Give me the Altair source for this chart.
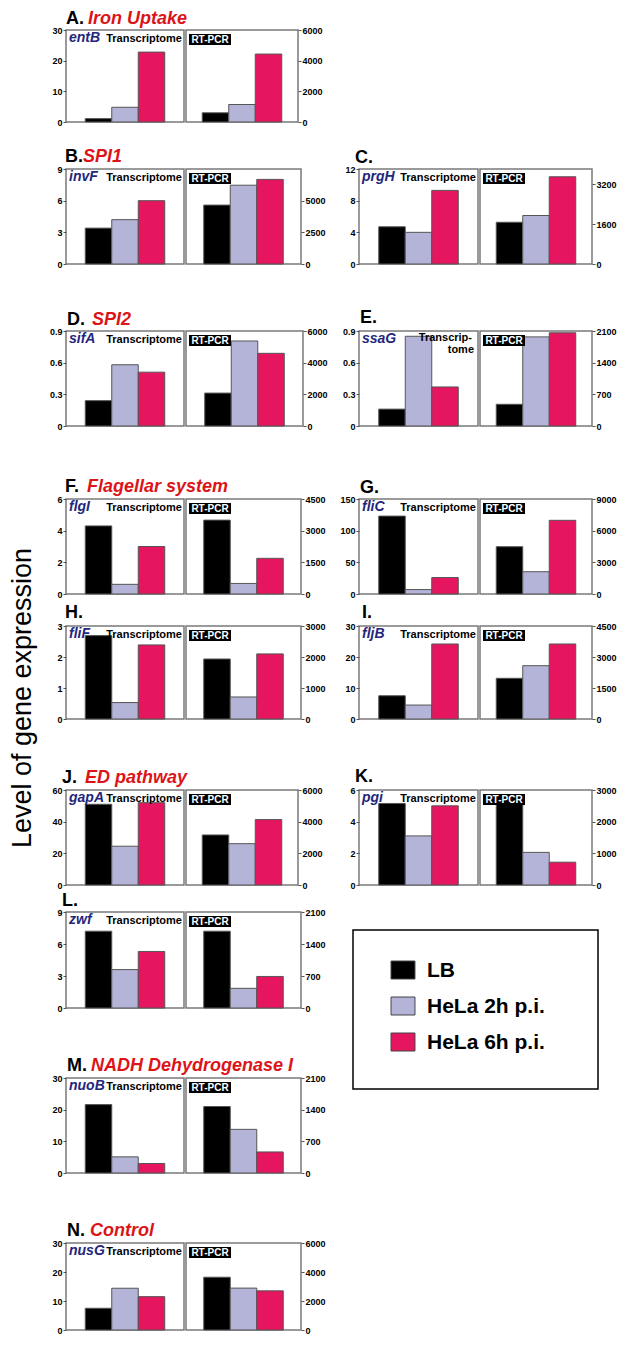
import altair as alt
import pandas as pd

FONT = "Liberation Sans"

# ---------------- data ----------------
groups = ["LB", "HeLa 2h p.i.", "HeLa 6h p.i."]
bar_colors = ["#000000", "#b4b4d8", "#e5165f"]

letters = ["A.", "B.", "C.", "D.", "E.", "F.", "G.", "H.", "I.", "J.", "K.", "L.", "M.", "N."]
topics = ["Iron Uptake", "SPI1", "", "SPI2", "", "Flagellar system", "", "", "",
          "ED pathway", "", "", "NADH Dehydrogenase I", "Control"]
genes = ["entB", "invF", "prgH", "sifA", "ssaG", "flgI", "fliC", "fliF", "fljB",
         "gapA", "pgi", "zwf", "nuoB", "nusG"]

transcriptome = [
    [1.1, 4.8, 22.8],
    [3.4, 4.2, 6.0],
    [4.7, 4.0, 9.3],
    [0.24, 0.58, 0.51],
    [0.16, 0.85, 0.37],
    [4.3, 0.61, 3.0],
    [123, 7, 26],
    [2.69, 0.53, 2.39],
    [7.5, 4.5, 24.2],
    [51, 24.5, 52],
    [5.15, 3.1, 5.0],
    [7.2, 3.6, 5.3],
    [21.6, 5.1, 3.0],
    [7.5, 14.4, 11.5],
]
rtpcr = [
    [600, 1140, 4430],
    [4650, 6220, 6680],
    [1670, 1940, 3490],
    [2080, 5370, 4590],
    [480, 1970, 2060],
    [3500, 500, 1690],
    [4480, 2110, 6980],
    [1935, 710, 2100],
    [1970, 2580, 3630],
    [3160, 2610, 4130],
    [2570, 1030, 720],
    [1680, 430, 690],
    [1470, 965, 465],
    [3640, 2890, 2700],
]
left_ticks = [[0, 10, 20, 30], [0, 3, 6, 9], [0, 4, 8, 12], [0, 0.3, 0.6, 0.9],
              [0, 0.3, 0.6, 0.9], [0, 2, 4, 6], [0, 50, 100, 150], [0, 1, 2, 3],
              [0, 10, 20, 30], [0, 20, 40, 60], [0, 2, 4, 6], [0, 3, 6, 9],
              [0, 10, 20, 30], [0, 10, 20, 30]]
right_ticks = [[0, 2000, 4000, 6000], [0, 2500, 5000], [0, 1600, 3200],
               [0, 2000, 4000, 6000], [0, 700, 1400, 2100], [0, 1500, 3000, 4500],
               [0, 3000, 6000, 9000], [0, 1000, 2000, 3000], [0, 1500, 3000, 4500],
               [0, 2000, 4000, 6000], [0, 1000, 2000, 3000], [0, 700, 1400, 2100],
               [0, 700, 1400, 2100], [0, 2000, 4000, 6000]]
right_max = [6000, 7500, 3800, 6000, 2100, 4500, 9000, 3000, 4500, 6000, 3000, 2100, 2100, 6000]
y_title = "Level of gene expression"
method_left = "Transcriptome"
method_right = "RT-PCR"

# ---------------- layout (page pixels) ----------------
OX, OY = 8, 8
LABEL_W = 40
GAP = 2
NCOL = 7
LEFT_X0, LEFT_XD = 66, 185
RIGHT_X0, RIGHT_XD = 359, 479
# right edge of each panel's frame
panel_x1 = [298, 301, 592, 303, 592, 301, 592, 301, 592, 298, 592, 301, 301, 301]
# letter x, topic x, baseline y
title_pos = [
    (66, 88, 24), (65, 83, 162.3), (355, 0, 162.5), (67, 92, 325), (360, 0, 323.3),
    (65, 87, 491.7), (360, 0, 493.3), (65, 0, 618.3), (362, 0, 618.3), (62, 85, 783.3),
    (355, 0, 782), (62, 0, 905.7), (67, 91, 1070.7), (67, 90, 1236),
]
# left panel, right panel (or "legend"), top, bottom
grid_rows = [
    (0, None, 30, 122),
    (1, 2, 169, 264),
    (3, 4, 331, 426),
    (5, 6, 499, 594),
    (7, 8, 626, 719),
    (9, 10, 790, 885),
    (11, "legend", 912, 1008),
    (12, None, 1078, 1173),
    (13, None, 1243, 1330),
]
LABEL_ROW = 4          # grid row that holds the vertical title
LABEL_CENTER_Y = 698
legend_box = (353, 598, 930, 1089)

BAR_STEP = 26.5
GENE_COLOR = "#24267c"
TOPIC_COLOR = "#dc1418"


def blank(w=1, h=1):
    # an empty cell: no data, so nothing is drawn and nothing adds to the bounds
    return alt.Chart(alt.Data(values=[])).mark_point(opacity=0).properties(
        width=max(1, int(w)), height=max(1, int(h)),
        view=alt.ViewBackground(strokeOpacity=0))


def txt(text, x, y, size, color="black", weight="bold", style="normal",
        align="left", baseline="alphabetic", angle=None):
    kw = dict(align=align, baseline=baseline, fontSize=size, fontWeight=weight,
              fontStyle=style, color=color, font=FONT)
    if angle is not None:
        kw["angle"] = angle
    return alt.Chart(pd.DataFrame({"t": [text]})).mark_text(**kw).encode(
        text="t:N", x=alt.value(x), y=alt.value(y))


def bars(values, ticks, ymax, orient, width):
    df = pd.DataFrame({"group": groups, "value": values})
    pad = max(0.0, (width / BAR_STEP - 3) / 2)
    return alt.Chart(df).mark_bar(stroke="#555555", strokeWidth=1).encode(
        x=alt.X("group:N", sort=groups, axis=None,
                scale=alt.Scale(paddingInner=0, paddingOuter=pad)),
        y=alt.Y("value:Q", title=None,
                scale=alt.Scale(domain=[0, ymax], nice=False, zero=True),
                axis=alt.Axis(orient=orient, values=ticks, format="~f", grid=False,
                              domain=False, tickSize=3, tickColor="#555555",
                              labelFontSize=9, labelFontWeight="bold", labelColor="black",
                              labelFont=FONT, labelFlush=False, labelPadding=1)),
        color=alt.Color("group:N", scale=alt.Scale(domain=groups, range=bar_colors),
                        legend=None),
    )


def left_chart(i, x0, xd, top, h):
    wl = xd - x0 - 1
    lx, tx, by = title_pos[i]
    layers = [bars(transcriptome[i], left_ticks[i], left_ticks[i][-1], "left", wl),
              txt(genes[i], 3, 12, 14, color=GENE_COLOR, style="italic")]
    if i == 4:
        layers.append(txt("Transcrip-", wl - 6, 10, 11, align="right"))
        layers.append(txt("tome", wl - 4, 22, 11, align="right"))
    else:
        layers.append(txt(method_left, wl - 2, 12, 11, align="right"))
    layers.append(txt(letters[i], lx - x0, by - top, 18))
    if topics[i]:
        layers.append(txt(topics[i], tx - x0, by - top, 18, color=TOPIC_COLOR, style="italic"))
    return alt.layer(*layers).properties(width=wl, height=h)


def right_chart(i, xd, h):
    wr = panel_x1[i] - xd - 1
    badge = alt.Chart(pd.DataFrame({"t": [method_right]})).mark_rect(color="black").encode(
        x=alt.value(3), x2=alt.value(45), y=alt.value(4), y2=alt.value(15))
    return alt.layer(
        bars(rtpcr[i], right_ticks[i], right_max[i], "right", wr),
        badge,
        txt(method_right, 24, 10, 10, color="white", align="center", baseline="middle"),
    ).properties(width=wr, height=h)


def legend_chart(cell_x, top):
    lx0, lx1, ly0, ly1 = legend_box
    l = lx0 - cell_x
    w, h = lx1 - lx0, ly1 - ly0
    t = ly0 - top
    df = pd.DataFrame({"group": groups})
    frame = alt.Chart(pd.DataFrame({"s": [0]})).mark_rect(
        fill="white", fillOpacity=0, stroke="black", strokeWidth=1.5).encode(
        x=alt.value(l), x2=alt.value(l + w), y=alt.value(t), y2=alt.value(t + h))
    yenc = alt.Y("group:N", sort=groups, axis=None,
                 scale=alt.Scale(domain=groups, range=[t + 40, t + 112], padding=0))
    sym = alt.Chart(df).mark_point(
        shape="M-1.33,-1L1.33,-1L1.33,1L-1.33,1Z", filled=True, size=324, opacity=1,
        stroke="#444444", strokeWidth=1).encode(
        y=yenc, x=alt.value(l + 50),
        color=alt.Color("group:N", scale=alt.Scale(domain=groups, range=bar_colors), legend=None))
    lab = alt.Chart(df).mark_text(align="left", baseline="middle", fontSize=21,
                                  fontWeight="bold", font=FONT, color="black", dy=1).encode(
        y=yenc, x=alt.value(l + 74), text="group:N")
    return alt.layer(frame, sym, lab).properties(
        width=1, height=1, view=alt.ViewBackground(strokeOpacity=0))


def label_cell(top):
    return alt.layer(
        txt(y_title, 15, LABEL_CENTER_Y - top, 27, weight="normal", align="center",
            baseline="middle", angle=270)
    ).properties(width=LABEL_W, height=1, view=alt.ViewBackground(strokeOpacity=0))


s1 = LEFT_X0 - (OX + LABEL_W + 2 * GAP)
c3_w = max(panel_x1[r[0]] for r in grid_rows) - LEFT_XD - 1
s4 = RIGHT_X0 - (LEFT_XD + 1 + c3_w + 2 * GAP)

cells = []
cells += [blank(LABEL_W, grid_rows[0][2] - OY)] + [blank() for _ in range(NCOL - 1)]

prev_bottom = None
for r, (li, ri, top, bottom) in enumerate(grid_rows):
    h = bottom - top
    if prev_bottom is not None:
        cells += [blank(1, top - prev_bottom)] + [blank() for _ in range(NCOL - 1)]
    first = label_cell(top) if r == LABEL_ROW else blank(LABEL_W)
    row = [first, blank(s1),
           left_chart(li, LEFT_X0, LEFT_XD, top, h), right_chart(li, LEFT_XD, h),
           blank(s4)]
    if ri == "legend":
        row += [legend_chart(RIGHT_X0, top), blank()]
    elif ri is not None:
        row += [left_chart(ri, RIGHT_X0, RIGHT_XD, top, h), right_chart(ri, RIGHT_XD, h)]
    else:
        row += [blank(), blank()]
    cells += row
    prev_bottom = bottom

chart = alt.concat(
    *cells, columns=NCOL, spacing={"row": 0, "column": GAP}, bounds="flush",
    align="each",
).properties(padding=0).configure_view(stroke="#7a7a7a", strokeWidth=1.5)

chart.save("out.html", embed_options={"renderer": "svg", "actions": False})
